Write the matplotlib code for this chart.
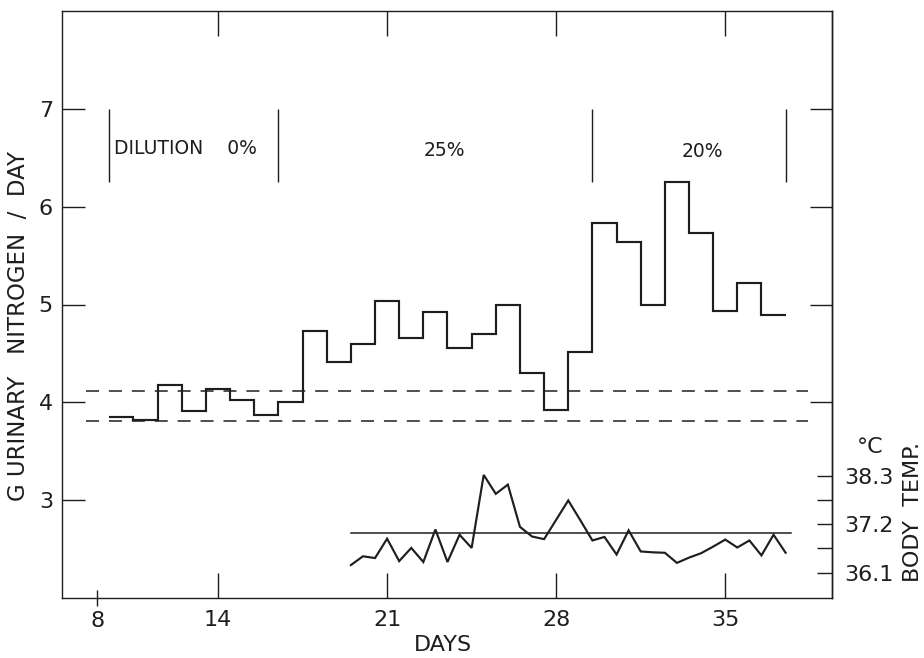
import numpy as np
import matplotlib
matplotlib.use("Agg")
import matplotlib.pyplot as plt

plt.rcParams['font.family'] = ['DejaVu Sans']

INK = '#1e1e1e'

# Daily urinary nitrogen (g/day), one value per day
n_days = [10, 11, 12, 13, 14, 15, 16, 17, 18, 19, 20, 21, 22, 23, 24, 25, 26, 27,
          28, 29, 30, 31, 32, 33, 34, 35, 36, 37]
n_values = [3.85, 3.82, 4.18, 3.91, 4.14, 4.02, 3.87, 4.00, 4.73, 4.41, 4.60, 5.04,
            4.66, 4.92, 4.56, 4.70, 4.99, 4.30, 3.92, 4.51, 5.83, 5.64, 5.00, 6.25,
            5.73, 4.93, 5.22, 4.89]

# Control band (g/day)
band_levels = [3.81, 4.12]

# Dilution periods: first day, last day, label
periods = [(10, 16, 'DILUTION    0%'), (17, 29, '25%'), (30, 37, '20%')]

# Body temperature (deg C), twice daily
temp_days = np.arange(19.5, 37.51, 0.5)
temp_values = [36.27, 36.47, 36.43, 36.87, 36.36, 36.66, 36.34, 37.08, 36.34, 36.96,
               36.66, 38.32, 37.89, 38.10, 37.14, 36.92, 36.86, 37.30, 37.74, 37.29,
               36.83, 36.91, 36.51, 37.06, 36.58, 36.56, 36.55, 36.32, 36.44, 36.54,
               36.69, 36.85, 36.67, 36.83, 36.49, 36.96, 36.55]
temp_normal = 37.0

# Axis ticks
x_tick_pos = [14, 21, 28, 35]
x_tick_labels = ['14', '21', '28', '35']
x_start_tick = 9
x_start_label = '8'
y_ticks = [3, 4, 5, 6, 7]
y_right_ticks = [4, 5, 6, 7]
temp_ticks = [36.1, 36.65, 37.2, 37.75, 38.3]
temp_tick_labels = ['36.1', '', '37.2', '', '38.3']

fig = plt.figure(figsize=(9.24, 6.58), dpi=100)
ax = fig.add_axes([62 / 924, 60 / 658, 770 / 924, 587 / 658])
ax.set_xlim(7.54, 39.42)
ax.set_ylim(2, 8)
for s in ax.spines.values():
    s.set_linewidth(1.0)
    s.set_color(INK)

# Nitrogen steps
edges = np.append(np.array(n_days) - 0.5, n_days[-1] + 0.5)
ax.stairs(n_values, edges, baseline=None, color=INK, lw=1.55)

# Control band
for lvl in band_levels:
    ax.plot([8.53, 38.43], [lvl, lvl], color=INK, lw=1.1,
            linestyle=(0, (8.5, 6.5)))

# Period markers and labels
marks = sorted({p[0] - 0.5 for p in periods} | {p[1] + 0.5 for p in periods})
ax.vlines(marks, 6.25, 7.0, color=INK, lw=1.0)
ax.text(9.7, 6.59, periods[0][2], ha='left', va='center', fontsize=13.5, color=INK)
ax.text(23.36, 6.57, periods[1][2], ha='center', va='center', fontsize=13.5, color=INK)
ax.text(34.04, 6.56, periods[2][2], ha='center', va='center', fontsize=13.5, color=INK)

# Ticks: main axis
ax.set_yticks(y_ticks)
ax.set_yticklabels([str(v) for v in y_ticks])
ax.tick_params(axis='y', which='major', direction='in', length=16.5, width=1.0,
               labelsize=16, pad=6.5, left=True, right=False, colors=INK)
ax.set_xticks(x_tick_pos)
ax.set_xticklabels(x_tick_labels)
ax.set_xticks([x_start_tick], minor=True)
ax.set_xticklabels([x_start_label], minor=True)
ax.tick_params(axis='x', which='major', direction='in', length=18, width=1.0,
               labelsize=16, pad=9, top=True, colors=INK)
ax.tick_params(axis='x', which='minor', direction='inout', length=11.5, width=1.0,
               labelsize=16, pad=3.8, top=False, colors=INK)

sec = ax.secondary_yaxis('right')
sec.set_yticks(y_right_ticks)
sec.set_yticklabels([])
sec.tick_params(direction='in', length=16, width=1.0, colors=INK)
sec.spines['right'].set_linewidth(1.0)

# Temperature on its own scale
ax2 = ax.twinx()
t_scale = 0.4495
t_lo = 36.1 - 0.26 / t_scale
t_hi = 36.1 + 5.74 / t_scale
ax2.set_ylim(t_lo, t_hi)
ax2.plot(temp_days, temp_values, color=INK, lw=1.55, solid_joinstyle='miter')
ax2.plot([19.5, 37.73], [temp_normal, temp_normal], color=INK, lw=1.1)
ax2.set_yticks(temp_ticks)
ax2.set_yticklabels(temp_tick_labels)
ax2.tick_params(axis='y', direction='in', length=11, width=1.0, labelsize=16,
                pad=8.5, colors=INK)
for s in ax2.spines.values():
    s.set_visible(False)

fig.text(19 / 924, 1 - 326 / 658, 'G URINARY   NITROGEN  /  DAY', rotation=90,
         ha='center', va='center', fontsize=16.5, color=INK)
fig.text(443 / 924, 1 - 645 / 658, 'DAYS', ha='center', va='center',
         fontsize=16, color=INK)
fig.text(870 / 924, 1 - 447 / 658, '°C', ha='center', va='center',
         fontsize=16, color=INK)
fig.text(913 / 924, 1 - 512 / 658, 'BODY  TEMP.', rotation=90, ha='center',
         va='center', fontsize=16, color=INK)

fig.savefig('out.png', dpi=100)
